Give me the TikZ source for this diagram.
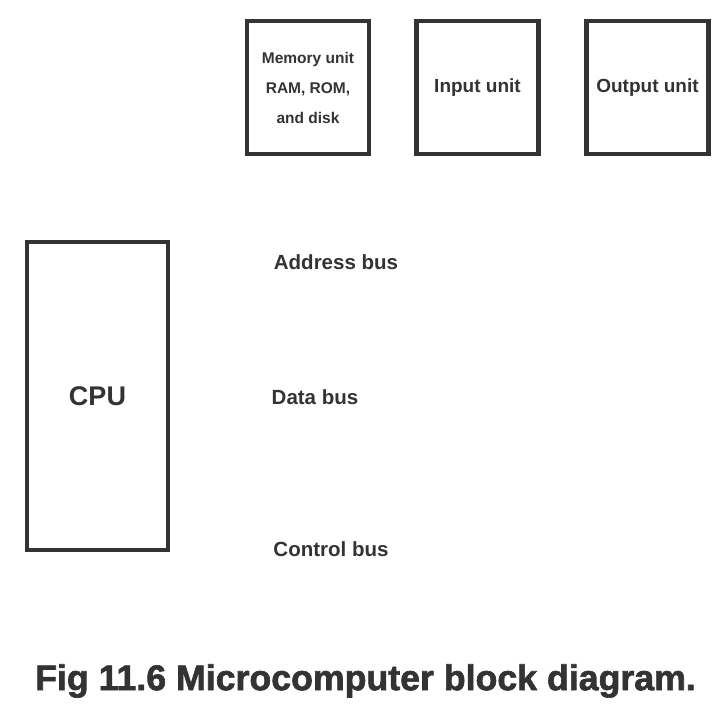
\documentclass[tikz,border=0pt]{standalone}
\usepackage{fontspec}
\setmainfont{Liberation Sans}
\newfontfamily\capfont[BoldFont={Liberation Sans Bold}, BoldFeatures={FakeBold=1.8}]{Liberation Sans}
\usepackage{tikz}
\usetikzlibrary{positioning}

\begin{document}
\begin{tikzpicture}[x=1pt, y=-1pt]
        \def\lw{4.5pt} \def\unitW{122pt} \def\unitH{133pt}
        \tikzset{
            unit/.style={draw=black!80, line width=\lw, minimum width=\unitW, minimum height=\unitH, inner sep=0pt, align=center, font=\bfseries\fontsize{15.5}{30}\selectfont, text=black!80},
            buslabel/.style={font=\bfseries\fontsize{20.5}{24}\selectfont, text=black!80}
        }
        \useasboundingbox (0,0) rectangle (727,720);

        % units across the top
        \node[unit] (mem) at (308, 87.5) {Memory unit\\RAM, ROM,\\and disk};
        \node[unit, font=\bfseries\fontsize{19}{22}\selectfont] (inp) at (477.5, 87.5) {Input unit};
        \node[unit, font=\bfseries\fontsize{19}{22}\selectfont] (outp) at (647.5, 87.5) {Output unit};

        % processor
        \node[unit, minimum width=141pt, minimum height=308pt, font=\bfseries\fontsize{27}{30}\selectfont] (cpu) at (97.5, 396) {CPU};

        % bus names
        \node[buslabel] (addr) at (336, 262) {Address bus};
        \node[buslabel] (data) at (315, 397) {Data bus};
        \node[buslabel] (ctrl) at (331, 549) {Control bus};

        \node[font=\capfont\bfseries\fontsize{35.7}{40}\selectfont, text=black!80] (cap) at (365.5, 681) {Fig 11.6 Microcomputer block diagram.};
    \end{tikzpicture}
\end{document}
